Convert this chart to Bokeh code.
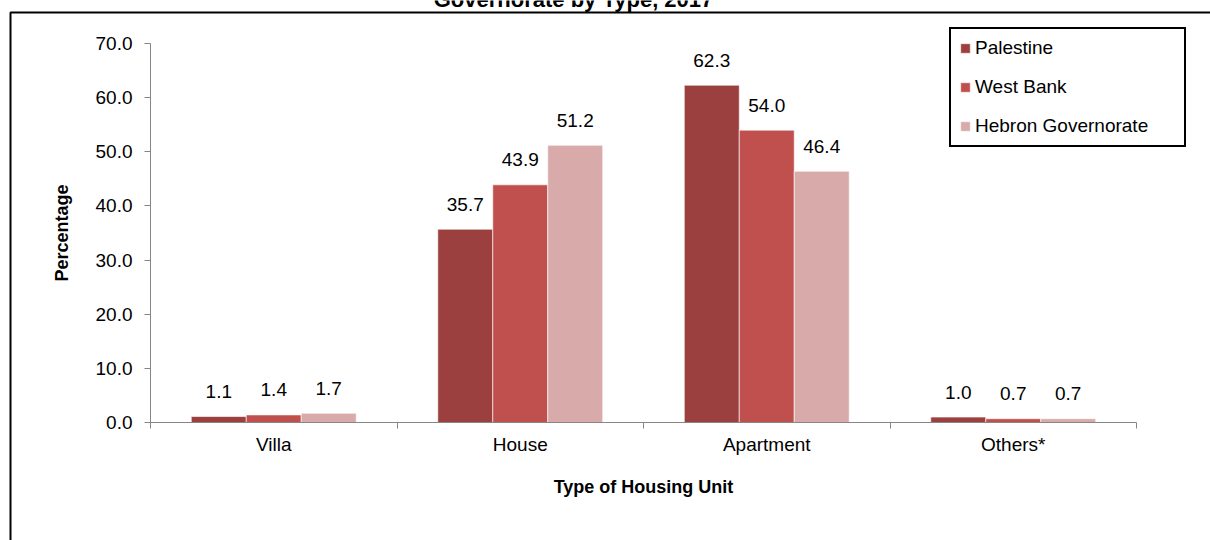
from bokeh.plotting import figure
from bokeh.models import (Range1d, FixedTicker, PrintfTickFormatter, Legend, LegendItem,
                          ColumnDataSource, BoxAnnotation, Label)
from bokeh.embed import file_html
from bokeh.resources import INLINE
from bokeh.core.properties import value

# ---------------- data ----------------
categories = ["Villa", "House", "Apartment", "Others*"]
series_names = ["Palestine", "West Bank", "Hebron Governorate"]
palestine = [1.1, 35.7, 62.3, 1.0]
west_bank = [1.4, 43.9, 54.0, 0.7]
hebron = [1.7, 51.2, 46.4, 0.7]
y_ticks = [0, 10, 20, 30, 40, 50, 60, 70]
title_text = "Governorate by Type, 2017"
x_title = "Type of Housing Unit"
y_title = "Percentage"

colors = ["#9B403E", "#C0504D", "#D9AAAA"]
FONT = "Liberation Sans"

# ---------------- layout constants (page pixels) ----------------
W, H = 1210, 540
AX_L, AX_R = 150.0, 1136.0     # x pixel of category axis start / end
AX_B, AX_T = 422.0, 43.0       # y pixel of value 0 / value 70
XMAX, YMAX = len(categories), 70


def xd(sx):  # page x -> data x
    return (sx - AX_L) / (AX_R - AX_L) * XMAX


def yd(sy):  # page y -> data y
    return (AX_B - sy) / (AX_B - AX_T) * YMAX


p = figure(width=W, height=H, output_backend="svg", toolbar_location=None, title=None,
           x_range=Range1d(xd(0), xd(W)), y_range=Range1d(yd(H), yd(0)),
           min_border_left=0, min_border_right=0, min_border_top=0, min_border_bottom=0)
p.outline_line_color = None
p.xgrid.visible = False
p.ygrid.visible = False
p.background_fill_color = "white"
p.border_fill_color = "white"

bar_w = 0.223
offsets = [-bar_w, 0.0, bar_w]
renderers = []
for i, (vals, col) in enumerate(zip([palestine, west_bank, hebron], colors)):
    xs = [j + 0.5 + offsets[i] for j in range(len(categories))]
    src = ColumnDataSource(dict(x=xs, top=vals, label=["%.1f" % v for v in vals]))
    r = p.vbar(x="x", top="top", bottom=0, width=bar_w, source=src,
               fill_color=col, line_color="white", line_alpha=0.6, line_width=1)
    renderers.append(r)
    p.text(x="x", y="top", text="label", source=src, text_align="center",
           text_baseline="alphabetic", y_offset=-25,
           text_font=value(FONT), text_font_size="19px", text_color="black")

# y axis (fixed at x = 0)
yax = p.yaxis[0]
yax.fixed_location = 0
yax.bounds = (0, YMAX)
yax.ticker = FixedTicker(ticks=y_ticks)
yax.formatter = PrintfTickFormatter(format="%.1f")
yax.axis_line_color = "#868686"
yax.major_tick_line_color = "#868686"
yax.major_tick_out = 6
yax.major_tick_in = 0
yax.minor_tick_line_color = None
yax.major_label_text_font = FONT
yax.major_label_text_font_size = "19px"
yax.major_label_text_color = "black"
yax.major_label_standoff = 12
yax.axis_label = y_title
yax.axis_label_text_font = FONT
yax.axis_label_text_font_style = "bold"
yax.axis_label_text_font_size = "18px"
yax.axis_label_text_color = "black"
yax.axis_label_standoff = 21

# x axis (fixed at y = 0): labels at category centres, tick marks at boundaries
xax = p.xaxis[0]
xax.fixed_location = 0
xax.bounds = (0, XMAX)
xax.ticker = FixedTicker(ticks=[j + 0.5 for j in range(len(categories))],
                         minor_ticks=list(range(len(categories) + 1)))
xax.major_label_overrides = {j + 0.5: c for j, c in enumerate(categories)}
xax.axis_line_color = "#868686"
xax.major_tick_line_color = None
xax.major_tick_out = 0
xax.major_tick_in = 0
xax.minor_tick_line_color = "#868686"
xax.minor_tick_out = 6
xax.minor_tick_in = 0
xax.major_label_text_font = FONT
xax.major_label_text_font_size = "19px"
xax.major_label_text_color = "black"
xax.major_label_standoff = 5
xax.axis_label = x_title
xax.axis_label_text_font = FONT
xax.axis_label_text_font_style = "bold"
xax.axis_label_text_font_size = "18px"
xax.axis_label_text_color = "black"
xax.axis_label_standoff = 19

# legend
legend = Legend(items=[LegendItem(label=n, renderers=[r]) for n, r in zip(series_names, renderers)],
                location=(949, H - 147),
                border_line_color="black", border_line_width=2, border_line_alpha=1,
                background_fill_color="white", background_fill_alpha=1,
                label_text_font=FONT, label_text_font_size="19px", label_text_color="black",
                glyph_width=12, glyph_height=12, label_standoff=4,
                spacing=17, padding=8, margin=0, label_height=20, label_width=201)
p.add_layout(legend)

# chart frame lines (top and left) and the partially visible title
frame_box = BoxAnnotation(left=xd(10), top=yd(12), right=xd(W + 50), bottom=yd(H + 50),
                          fill_color=None, fill_alpha=0, line_color="black", line_alpha=1,
                          line_width=2, level="overlay")
p.add_layout(frame_box)
p.add_layout(Label(x=xd(573), y=yd(-1), text=title_text, text_align="center",
                   text_baseline="alphabetic", text_font=FONT, text_font_style="bold",
                   text_font_size="22px", text_color="black"))

open("out.html", "w").write(file_html(p, INLINE))
